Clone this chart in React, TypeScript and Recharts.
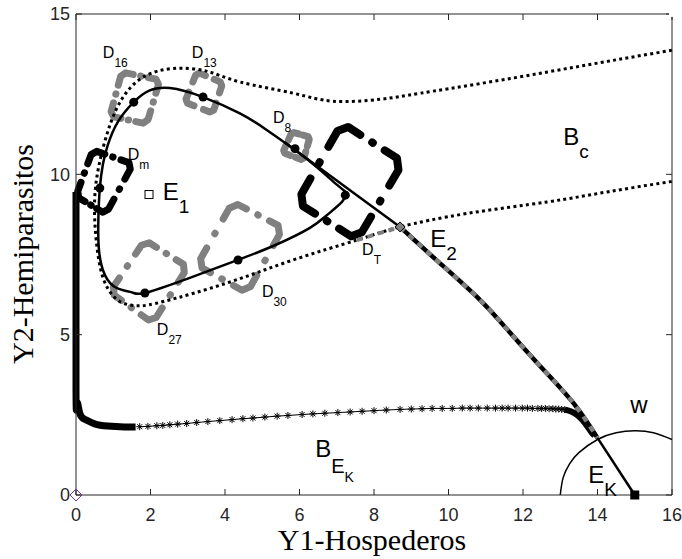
import {ComposedChart, Line, Scatter, XAxis, YAxis} from 'recharts'

type P = {x: number; y: number | null}
type Tag = {x: number; y: number; main: string; sub?: string; subsub?: string}

const sans = '"Liberation Sans", Arial, Helvetica, sans-serif'
const serif = '"Liberation Serif", "Times New Roman", serif'
const ink = '#000000'
const grey = '#808080'
const axisInk = '#262626'

const xTicks = [0, 2, 4, 6, 8, 10, 12, 14, 16]
const yTicks = [0, 5, 10, 15]

// dotted basin boundary: enters from the right, wraps round the cycle, goes through E2 and out again
const separatrix: P[] = [
    {x: 16, y: 13.87}, {x: 14.3, y: 13.53}, {x: 12.65, y: 13.19}, {x: 10.9, y: 12.84}, {x: 9.24, y: 12.53},
    {x: 8.16, y: 12.34}, {x: 6.9, y: 12.28}, {x: 5.83, y: 12.53}, {x: 4.4, y: 12.88}, {x: 3.5, y: 13.22},
    {x: 2.6, y: 13.3}, {x: 1.8, y: 13.03}, {x: 1.26, y: 12.4}, {x: 0.9, y: 11.5}, {x: 0.62, y: 10.3},
    {x: 0.5, y: 9.2}, {x: 0.53, y: 8.1}, {x: 0.65, y: 7.1}, {x: 0.85, y: 6.45}, {x: 1.2, y: 6.02},
    {x: 1.7, y: 5.9}, {x: 2.4, y: 6.05}, {x: 4.05, y: 6.61}, {x: 5.83, y: 7.33}, {x: 7.54, y: 7.95},
    {x: 8.7, y: 8.36}, {x: 10.5, y: 8.78}, {x: 12.65, y: 9.14}, {x: 14.3, y: 9.46}, {x: 16, y: 9.78},
]

// limit cycle around E1
const cycle: P[] = [
    {x: 7.28, y: 9.42}, {x: 7.01, y: 9.67}, {x: 6.47, y: 10.22}, {x: 5.88, y: 10.76}, {x: 5.1, y: 11.4},
    {x: 4.4, y: 11.9}, {x: 3.41, y: 12.41}, {x: 2.52, y: 12.69}, {x: 1.95, y: 12.6}, {x: 1.55, y: 12.25},
    {x: 1.12, y: 11.63}, {x: 0.85, y: 10.9}, {x: 0.72, y: 10.3}, {x: 0.64, y: 9.57}, {x: 0.6, y: 8.6},
    {x: 0.62, y: 7.6}, {x: 0.78, y: 6.85}, {x: 1.1, y: 6.45}, {x: 1.5, y: 6.32}, {x: 1.85, y: 6.3},
    {x: 3.0, y: 6.75}, {x: 4.35, y: 7.33}, {x: 5.4, y: 7.82}, {x: 6.28, y: 8.33}, {x: 6.74, y: 8.73},
    {x: 7.14, y: 9.14}, {x: 7.28, y: 9.42},
]
const cycleMarks = [
    {x: 1.55, y: 12.25}, {x: 3.41, y: 12.41}, {x: 5.88, y: 10.8}, {x: 7.23, y: 9.35},
    {x: 4.35, y: 7.33}, {x: 1.85, y: 6.3}, {x: 0.64, y: 9.57},
]

// trajectory from the cycle top down to E2, then on to EK
const ridge: P[] = [{x: 5.6, y: 11.0}, {x: 8.7, y: 8.36}]
const toEK: P[] = [
    {x: 8.7, y: 8.36}, {x: 9.7, y: 7.3}, {x: 10.85, y: 6.08}, {x: 11.66, y: 5.05},
    {x: 12.5, y: 3.97}, {x: 13.35, y: 2.87}, {x: 14.0, y: 1.78},
]
const toEKTail: P[] = [{x: 14.0, y: 1.78}, {x: 15.0, y: 0}]
const greyRun: P[] = [{x: 7.54, y: 7.95}, {x: 8.7, y: 8.36}]

// manifold drawn with asterisks: dense run along the axis, sparse run, dense bend
const manifoldBand: P[] = [
    {x: 0, y: 9.45}, {x: 0, y: 3.3}, {x: 0.03, y: 2.85}, {x: 0.1, y: 2.55}, {x: 0.25, y: 2.35},
    {x: 0.5, y: 2.22}, {x: 0.85, y: 2.15}, {x: 1.3, y: 2.12}, {x: 1.6, y: 2.12},
]
const manifoldStars: P[] = [
    {x: 1.71, y: 2.13}, {x: 1.93, y: 2.14}, {x: 2.17, y: 2.16}, {x: 2.33, y: 2.17}, {x: 2.52, y: 2.19},
    {x: 2.73, y: 2.21}, {x: 2.97, y: 2.23}, {x: 3.24, y: 2.26}, {x: 3.54, y: 2.29}, {x: 3.86, y: 2.32},
    {x: 4.19, y: 2.35}, {x: 4.48, y: 2.38}, {x: 4.75, y: 2.4}, {x: 5.07, y: 2.43}, {x: 5.4, y: 2.46},
    {x: 5.69, y: 2.48}, {x: 6.07, y: 2.51}, {x: 6.36, y: 2.53}, {x: 6.68, y: 2.55}, {x: 7.03, y: 2.57},
    {x: 7.36, y: 2.59}, {x: 7.68, y: 2.61}, {x: 8.0, y: 2.63}, {x: 8.33, y: 2.65}, {x: 8.7, y: 2.67},
    {x: 9.0, y: 2.68}, {x: 9.29, y: 2.69}, {x: 9.56, y: 2.7}, {x: 9.83, y: 2.7}, {x: 10.1, y: 2.7},
    {x: 10.37, y: 2.71}, {x: 10.58, y: 2.71}, {x: 10.8, y: 2.71}, {x: 11.04, y: 2.71}, {x: 11.26, y: 2.71},
    {x: 11.44, y: 2.71}, {x: 11.6, y: 2.71}, {x: 11.8, y: 2.71}, {x: 11.98, y: 2.71}, {x: 12.12, y: 2.71},
    {x: 12.25, y: 2.7}, {x: 12.4, y: 2.7}, {x: 12.5, y: 2.7}, {x: 12.6, y: 2.7}, {x: 12.7, y: 2.69},
    {x: 12.8, y: 2.69}, {x: 12.88, y: 2.68}, {x: 12.96, y: 2.68}, {x: 13.04, y: 2.67}, {x: 13.12, y: 2.66},
]
const manifoldBend: P[] = [
    {x: 13.12, y: 2.66}, {x: 13.3, y: 2.6}, {x: 13.45, y: 2.5}, {x: 13.6, y: 2.33},
    {x: 13.72, y: 2.15}, {x: 13.83, y: 1.97}, {x: 13.92, y: 1.85},
]

// boundary of the region w around EK
const wArc: P[] = [
    {x: 13, y: 0}, {x: 13.08, y: 0.55}, {x: 13.25, y: 0.97}, {x: 13.5, y: 1.32}, {x: 14, y: 1.73},
    {x: 14.5, y: 1.94}, {x: 15, y: 2}, {x: 15.5, y: 1.94}, {x: 16, y: 1.73},
]

// corners of the dashed sets
const d16: P[] = [{x: 1.23, y: 13.19}, {x: 2.25, y: 12.94}, {x: 1.9, y: 11.57}, {x: 0.91, y: 11.82}]
const d13: P[] = [{x: 3.245, y: 13.19}, {x: 3.94, y: 12.85}, {x: 3.67, y: 11.91}, {x: 2.92, y: 12.25}]
const d8: P[] = [{x: 5.8, y: 11.32}, {x: 6.28, y: 11.16}, {x: 6.1, y: 10.44}, {x: 5.55, y: 10.68}]
const d27: P[] = [{x: 1.85, y: 7.95}, {x: 3.0, y: 7.11}, {x: 2.06, y: 5.36}, {x: 0.91, y: 6.33}]
const d30: P[] = [{x: 4.21, y: 9.14}, {x: 5.56, y: 8.33}, {x: 4.59, y: 6.3}, {x: 3.25, y: 7.17}]
const dT: P[] = [{x: 7.14, y: 11.6}, {x: 8.78, y: 10.38}, {x: 7.55, y: 7.95}, {x: 5.93, y: 9.13}]
const dM: P[] = [{x: 0.45, y: 10.76}, {x: 1.53, y: 10.32}, {x: 0.8, y: 8.76}, {x: 0.0, y: 9.32}]

const equilibriaE1 = [{x: 1.96, y: 9.37}]
const equilibriaE2 = [{x: 8.7, y: 8.36}]
const equilibriaEK = [{x: 15, y: 0}]
const origin = [{x: 0, y: 0}]
// lone point that ties the mirrored top/right axes to the chart
const frameAnchor = [{x: 16, y: 15}]

const setTags: Tag[] = [
    {x: 0.72, y: 13.63, main: 'D', sub: '16'},
    {x: 3.11, y: 13.63, main: 'D', sub: '13'},
    {x: 5.29, y: 11.6, main: 'D', sub: '8'},
    {x: 1.39, y: 10.45, main: 'D', sub: 'm'},
    {x: 7.68, y: 7.48, main: 'D', sub: 'T'},
    {x: 4.99, y: 6.17, main: 'D', sub: '30'},
    {x: 2.17, y: 4.99, main: 'D', sub: '27'},
]
const pointTags: Tag[] = [
    {x: 2.33, y: 9.2, main: 'E', sub: '1'},
    {x: 9.51, y: 7.73, main: 'E', sub: '2'},
    {x: 13.08, y: 10.91, main: 'B', sub: 'c'},
    {x: 14.88, y: 2.56, main: 'w'},
    {x: 13.75, y: 0.37, main: 'E', sub: 'K'},
]
const basinTag: Tag[] = [{x: 6.42, y: 1.18, main: 'B', sub: 'E', subsub: 'K'}]

// turns the corners of a set into rounded corner brackets (plus a dot mid-side), split by null gaps
function brackets(corners: P[], f: number, dots: boolean): P[] {
    const lerp = (a: P, b: P, t: number): P => ({
        x: a.x + (b.x - a.x) * t,
        y: (a.y as number) + ((b.y as number) - (a.y as number)) * t,
    })
    const out: P[] = []
    const n = corners.length
    const cut = 0.1
    corners.forEach((c, i) => {
        const prev = corners[(i + n - 1) % n]
        const next = corners[(i + 1) % n]
        out.push(lerp(c, prev, f), lerp(c, prev, cut), lerp(c, next, cut), lerp(c, next, f), {x: c.x, y: null})
        if (dots) out.push(lerp(c, next, 0.495), lerp(c, next, 0.505), {x: c.x, y: null})
    })
    return out
}

const Asterisk = (props: any) => {
    const {cx, cy} = props
    return (
        <g stroke={ink} strokeWidth={1}>
            <line x1={cx - 3.5} y1={cy} x2={cx + 3.5} y2={cy}/>
            <line x1={cx} y1={cy - 3.5} x2={cx} y2={cy + 3.5}/>
            <line x1={cx - 2.5} y1={cy - 2.5} x2={cx + 2.5} y2={cy + 2.5}/>
            <line x1={cx - 2.5} y1={cy + 2.5} x2={cx + 2.5} y2={cy - 2.5}/>
        </g>
    )
}

const tagShape = (mainSize: number, subSize: number, subDy: number) => (props: any) => {
    const {cx, cy, payload} = props
    const t = payload as Tag
    return (
        <text x={cx} y={cy} fontFamily={sans} fontSize={mainSize} fill={ink}>
            {t.main}
            {t.sub ? <tspan dy={subDy} fontSize={subSize}>{t.sub}</tspan> : null}
            {t.subsub ? <tspan dy={9} fontSize={14}>{t.subsub}</tspan> : null}
        </text>
    )
}

const lineBase = {
    dataKey: 'y',
    dot: false,
    activeDot: false,
    isAnimationActive: false,
    legendType: 'none' as const,
}

export default function App() {
    const boxes = [
        {pts: brackets(d16, 0.3, true), color: grey, w: 7},
        {pts: brackets(d13, 0.33, false), color: grey, w: 7},
        {pts: brackets(d8, 0.38, false), color: grey, w: 7},
        {pts: brackets(d27, 0.27, true), color: grey, w: 7},
        {pts: brackets(d30, 0.27, true), color: grey, w: 7},
        {pts: brackets(dT, 0.3, true), color: ink, w: 8},
        {pts: brackets(dM, 0.3, true), color: ink, w: 7},
    ]

    return (
        <div style={{position: 'absolute', left: 0, top: 0, width: 682, height: 559, background: '#fff'}}>
            <ComposedChart width={682} height={559} margin={{top: 13, right: 9, bottom: 34, left: 36}}>
                <XAxis dataKey="x" type="number" domain={[0, 16]} ticks={xTicks} interval={0}
                       height={30} tickSize={-6} tickMargin={19} stroke={axisInk}
                       tick={{fill: axisInk, fontSize: 18, fontFamily: sans}}/>
                <XAxis xAxisId="top" orientation="top" dataKey="x" type="number" domain={[0, 16]}
                       ticks={xTicks} interval={0} height={1} tickSize={-6} stroke={axisInk}
                       tickFormatter={() => ''}/>
                <YAxis dataKey="y" type="number" domain={[0, 15]} ticks={yTicks} interval={0}
                       width={40} tickSize={-6} tickMargin={12} stroke={axisInk}
                       tick={{fill: axisInk, fontSize: 18, fontFamily: sans}}/>
                <YAxis yAxisId="right" orientation="right" dataKey="y" type="number" domain={[0, 15]}
                       ticks={yTicks} interval={0} width={1} tickSize={-6} stroke={axisInk}
                       tickFormatter={() => ''}/>

                <Line {...lineBase} xAxisId="top" yAxisId="right" data={frameAnchor} stroke="none"/>

                {boxes.map((b, i) => (
                    <Line key={`box-${i}`} {...lineBase} data={b.pts} type="linear" stroke={b.color}
                          strokeWidth={b.w} strokeLinecap="round" strokeLinejoin="round"/>
                ))}

                <Line {...lineBase} data={separatrix} type="natural" stroke={ink} strokeWidth={3}
                      strokeDasharray="3 3.3"/>
                <Line {...lineBase} data={wArc} type="natural" stroke={ink} strokeWidth={1.5}/>

                <Line {...lineBase} data={manifoldBand} type="natural" stroke={ink} strokeWidth={7}/>
                <Line {...lineBase} data={manifoldStars} type="linear" stroke={ink} strokeWidth={1}/>
                <Line {...lineBase} data={manifoldBend} type="natural" stroke={ink} strokeWidth={6}/>
                <Scatter data={manifoldStars} shape={Asterisk} isAnimationActive={false}/>

                <Line {...lineBase} data={cycle} type="natural" stroke={ink} strokeWidth={2.5}/>
                <Line {...lineBase} data={ridge} type="linear" stroke={ink} strokeWidth={2.5}/>
                <Line {...lineBase} data={toEK} type="natural" stroke={ink} strokeWidth={4.5}/>
                <Line {...lineBase} data={toEK} type="natural" stroke={grey} strokeWidth={4.5}
                      strokeDasharray="6 6"/>
                <Line {...lineBase} data={greyRun} type="linear" stroke={grey} strokeWidth={4}
                      strokeDasharray="6 5"/>
                <Line {...lineBase} data={toEKTail} type="linear" stroke={ink} strokeWidth={2.5}/>

                <Scatter data={cycleMarks} isAnimationActive={false}
                         shape={(p: any) => <circle cx={p.cx} cy={p.cy} r={4.5} fill={ink}/>}/>
                <Scatter data={equilibriaE1} isAnimationActive={false}
                         shape={(p: any) => <rect x={p.cx - 4} y={p.cy - 4} width={8} height={8}
                                                  fill="#fff" stroke={ink} strokeWidth={1}/>}/>
                <Scatter data={equilibriaE2} isAnimationActive={false}
                         shape={(p: any) => <path d={`M${p.cx},${p.cy - 5}L${p.cx + 5},${p.cy}L${p.cx},${p.cy + 5}L${p.cx - 5},${p.cy}Z`}
                                                  fill={grey} stroke={ink} strokeWidth={1}/>}/>
                <Scatter data={equilibriaEK} isAnimationActive={false}
                         shape={(p: any) => <rect x={p.cx - 4.5} y={p.cy - 4.5} width={9} height={9} fill={ink}/>}/>
                <Scatter data={origin} isAnimationActive={false}
                         shape={(p: any) => <path d={`M${p.cx},${p.cy - 6}L${p.cx + 6},${p.cy}L${p.cx},${p.cy + 6}L${p.cx - 6},${p.cy}Z`}
                                                  fill="none" stroke="#7E2F8E" strokeWidth={1}/>}/>

                <Scatter data={setTags} isAnimationActive={false} shape={tagShape(16, 12, 9)}/>
                <Scatter data={pointTags} isAnimationActive={false} shape={tagShape(24, 19, 13)}/>
                <Scatter data={basinTag} isAnimationActive={false} shape={tagShape(24, 20, 16)}/>
            </ComposedChart>
            <svg width={682} height={559} style={{position: 'absolute', left: 0, top: 0, pointerEvents: 'none'}}>
                <text x={372} y={550} textAnchor="middle" fontFamily={serif} fontSize={30} fill={ink}>
                    Y1-Hospederos
                </text>
                <text x={33} y={254} textAnchor="middle" fontFamily={serif} fontSize={30} fill={ink}
                      transform="rotate(-90 33 254)">
                    Y2-Hemiparasitos
                </text>
            </svg>
        </div>
    )
}
